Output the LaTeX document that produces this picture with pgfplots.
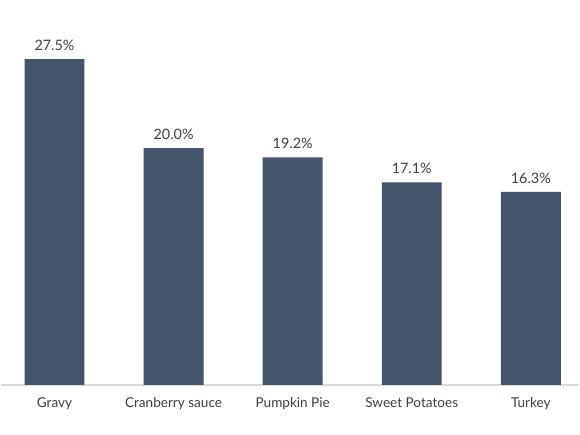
\documentclass[border=0pt]{standalone}
\usepackage{pgfplots}
\pgfplotsset{compat=1.18}
\usepackage{fontspec}
\setmainfont{Lato}
\definecolor{barc}{HTML}{44546A}
\definecolor{txt}{HTML}{404040}
\definecolor{axc}{HTML}{D9D9D9}
\begin{document}
\begin{tikzpicture}[x=0.75pt,y=0.75pt]
\path[fill=white] (0,0) rectangle (580,435);
\begin{axis}[
  at={(0,41.5)}, anchor=south west,
  scale only axis,
  width=435pt, height=247.5pt,
  xmin=-0.4526, xmax=4.408,
  ymin=0, ymax=27.8,
  clip=false,
  ybar, bar width=45pt,
  axis y line=none,
  axis x line*=bottom,
  x axis line style={axc, line width=0.9pt, -},
  xtick=data,
  xticklabels={Gravy,Cranberry sauce,Pumpkin Pie,Sweet Potatoes,Turkey},
  xtick style={draw=none},
  xticklabel style={font=\fontsize{10.2}{12}\selectfont, text=txt, yshift=-1.5pt},
  nodes near coords={\pgfmathprintnumber[fixed,fixed zerofill,precision=1]{\pgfplotspointmeta}\%},
  nodes near coords style={font=\fontsize{10.8}{13}\selectfont, text=txt, yshift=3pt},
  every node near coord/.append style={/pgf/number format/assume math mode=true},
]
\addplot[fill=barc, draw=none] coordinates {(0,27.5) (1,20.0) (2,19.2) (3,17.1) (4,16.3)};
\end{axis}
\end{tikzpicture}
\end{document}
